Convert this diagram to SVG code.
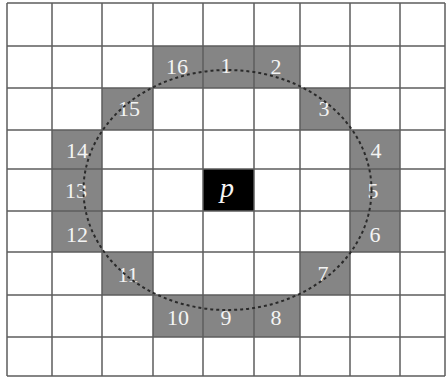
<svg xmlns="http://www.w3.org/2000/svg" width="446" height="378" viewBox="0 0 446 378">
<style>
.cell{fill:#858585}
.grid{stroke:#5e5e5e;stroke-width:1.5;fill:none}
.num{font-family:"Liberation Serif",serif;font-size:22px;fill:#f4f4f4;text-anchor:middle}
.circ{fill:none;stroke:#2a2a2a;stroke-width:2;stroke-dasharray:3 3}
</style>
<rect width="446" height="378" fill="#ffffff"/>
<g id="cells">
<g id="n16"><rect class="cell" x="153" y="46" width="50" height="42"/><text class="num" x="177" y="74">16</text></g>
<g id="n1"><rect class="cell" x="203" y="46" width="51" height="42"/><text class="num" x="226" y="73">1</text></g>
<g id="n2"><rect class="cell" x="254" y="46" width="46" height="42"/><text class="num" x="276" y="74">2</text></g>
<g id="n15"><rect class="cell" x="102" y="88" width="51" height="42"/><text class="num" x="129" y="116">15</text></g>
<g id="n3"><rect class="cell" x="300" y="88" width="50" height="42"/><text class="num" x="324" y="116">3</text></g>
<g id="n14"><rect class="cell" x="52" y="130" width="50" height="39"/><text class="num" x="77" y="158">14</text></g>
<g id="n4"><rect class="cell" x="350" y="130" width="50" height="39"/><text class="num" x="376" y="158">4</text></g>
<g id="n13"><rect class="cell" x="52" y="169" width="50" height="42"/><text class="num" x="76" y="198">13</text></g>
<g id="n5"><rect class="cell" x="350" y="169" width="50" height="42"/><text class="num" x="373" y="198">5</text></g>
<g id="n12"><rect class="cell" x="52" y="211" width="50" height="41"/><text class="num" x="77" y="242">12</text></g>
<g id="n6"><rect class="cell" x="350" y="211" width="50" height="41"/><text class="num" x="375" y="242">6</text></g>
<g id="n11"><rect class="cell" x="102" y="252" width="51" height="43"/><text class="num" x="128" y="282">11</text></g>
<g id="n7"><rect class="cell" x="300" y="252" width="50" height="43"/><text class="num" x="323" y="281">7</text></g>
<g id="n10"><rect class="cell" x="153" y="295" width="50" height="42"/><text class="num" x="178" y="325">10</text></g>
<g id="n9"><rect class="cell" x="203" y="295" width="51" height="42"/><text class="num" x="226" y="325">9</text></g>
<g id="n8"><rect class="cell" x="254" y="295" width="46" height="42"/><text class="num" x="276" y="325">8</text></g>
<g id="p"><rect x="203" y="169" width="51" height="42" fill="#000"/><text x="227" y="197" font-family="Liberation Serif,serif" font-style="italic" font-size="28" fill="#f4f4f4" text-anchor="middle">p</text></g>
</g>
<g id="grid" class="grid">
<path d="M7 3V376M52 3V376M102 3V376M153 3V376M203 3V376M254 3V376M300 3V376M350 3V376M400 3V376M445 3V376"/>
<path d="M7 3H445M7 46H445M7 88H445M7 130H445M7 169H445M7 211H445M7 252H445M7 295H445M7 337H445M7 376H445"/>
</g>
<g id="connectors">
<ellipse class="circ" cx="227.5" cy="190" rx="144" ry="120"/>
</g>
</svg>
